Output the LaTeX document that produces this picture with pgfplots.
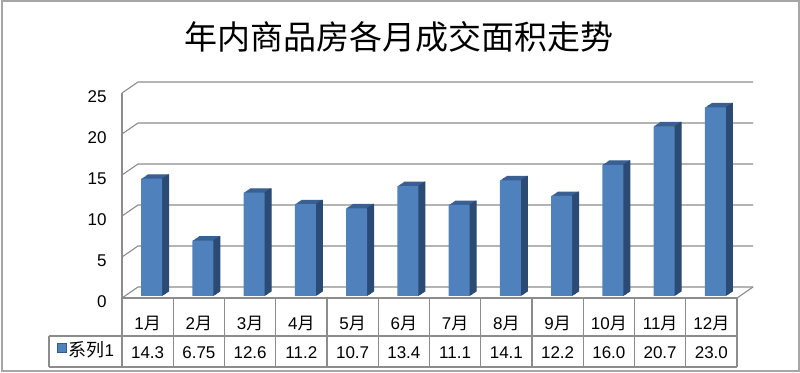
\documentclass[border=0pt]{standalone}
\usepackage{fontspec}
\setmainfont{Liberation Sans}
\newfontfamily\cjk{Noto Sans CJK SC}
\usepackage{pgfplots}
\usepackage{pgfplotstable}
\pgfplotsset{compat=1.18}
\definecolor{frontc}{HTML}{4F81BD}
\definecolor{topc}{HTML}{3A5F93}
\definecolor{sidec}{HTML}{2B4A74}
\definecolor{gridc}{HTML}{8C8C8C}
\newcommand\yue{{\cjk 月}}
\pgfplotstableread{
x y lab cat
0.5 14.3 14.3 1\yue
1.5 6.75 6.75 2\yue
2.5 12.6 12.6 3\yue
3.5 11.2 11.2 4\yue
4.5 10.7 10.7 5\yue
5.5 13.4 13.4 6\yue
6.5 11.1 11.1 7\yue
7.5 14.1 14.1 8\yue
8.5 12.2 12.2 9\yue
9.5 16.0 16.0 10\yue
10.5 20.7 20.7 11\yue
11.5 23.0 23.0 12\yue
}\data
\begin{document}
\begin{tikzpicture}[x=1pt,y=1pt]
\useasboundingbox (0,0) rectangle (800,372);
\draw[gray!70, line width=2pt] (2,1.5) rectangle (798.5,370.5);
\node[font=\cjk\fontsize{33}{37}\selectfont] at (399,335) {年内商品房各月成交面积走势};
\begin{axis}[at={(122pt,74pt)}, anchor=south west, scale only axis,
  width=615pt, height=205pt, xmin=0, xmax=12, ymin=0, ymax=25, clip=false,
  axis line style={draw=none}, major tick length=0pt,
  ytick={0,5,...,25}, xtick={0.5,1.5,...,11.5},
  xticklabels from table={\data}{cat},
  /pgf/number format/assume math mode=true,
  tick label style={font=\fontsize{17}{20}\selectfont},
  yticklabel style={xshift=-12pt, yshift=-4pt},
  xticklabel style={anchor=center, yshift=-25pt},
  legend image code/.code={\fill[frontc, draw=frontc!70!black] (0pt,-4.5pt) rectangle (9pt,4.5pt);},
  legend style={at={(-0.1057,-0.2537)}, anchor=west, draw=none, fill=none, inner sep=0pt,
    font=\fontsize{17}{20}\selectfont},
]
\pgfplotsinvokeforeach{0,5,...,25}{
  \draw[gridc, line width=1.1pt] (axis cs:0,#1) -- ([shift={(16pt,11pt)}]axis cs:0,#1) -- ([shift={(16pt,11pt)}]axis cs:12,#1);
}
\draw[gridc, line width=1.1pt] (axis cs:12,0) -- ([shift={(16pt,11pt)}]axis cs:12,0);
\pgfplotsinvokeforeach{1,...,8}{
  \addplot[forget plot, ybar, bar width=21pt, bar shift={4pt+#1*0.825pt}, yshift={2pt+#1*0.55pt}, fill=topc, draw=none] table[x=x,y=y]{\data};
}
\pgfplotsinvokeforeach{0,...,8}{
  \addplot[forget plot, ybar, bar width=1.4pt, bar shift={14.3pt+#1*0.825pt}, yshift={2pt+#1*0.55pt}, fill=sidec, draw=none] table[x=x,y=y]{\data};
}
\addplot[ybar, bar width=21pt, bar shift=4pt, yshift=2pt, fill=frontc, draw=none] table[x=x,y=y]{\data};
\addlegendentry{{\cjk\fontsize{18}{20}\selectfont 系列}1}
\addplot[forget plot, draw=none, mark=none, nodes near coords, point meta=explicit symbolic,
  every node near coord/.style={anchor=center, font=\fontsize{17}{20}\selectfont}]
  table[x=x, y expr=-6.7, meta=lab]{\data};
\draw[gridc, line width=1.1pt] (axis cs:0,25) -- (axis cs:0,-8.41);
\draw[gridc, line width=1.1pt] (axis cs:0,0) -- (axis cs:12,0);
\pgfplotsinvokeforeach{1,...,12}{
  \draw[gridc, line width=1.1pt] (axis cs:#1,0) -- (axis cs:#1,-8.41);
}
\draw[gridc, line width=1.1pt] (axis cs:-1.424,-4.63) -- (axis cs:12,-4.63);
\draw[gridc, line width=1.1pt] (axis cs:-1.424,-8.41) -- (axis cs:12,-8.41);
\draw[gridc, line width=1.1pt] (axis cs:-1.424,-4.63) -- (axis cs:-1.424,-8.41);
\end{axis}
\end{tikzpicture}
\end{document}
